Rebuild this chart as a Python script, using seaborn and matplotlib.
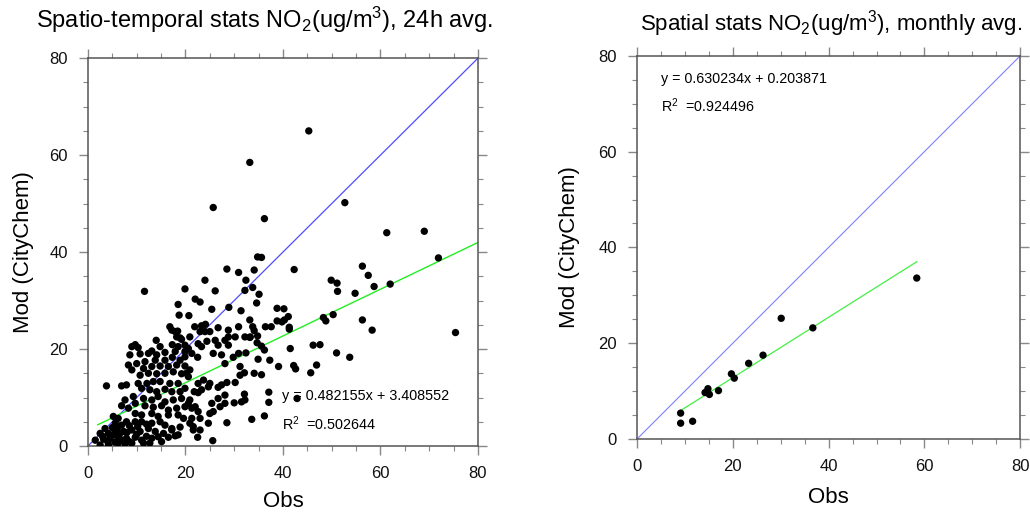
import matplotlib
matplotlib.use("Agg")
import matplotlib.pyplot as plt
import seaborn as sns
import numpy as np
from matplotlib.ticker import MultipleLocator

plt.rcParams.update({
    "font.family": ["Liberation Sans", "DejaVu Sans"],
    "mathtext.fontset": "custom",
    "mathtext.rm": "Liberation Sans",
    "mathtext.it": "Liberation Sans:italic",
    "mathtext.bf": "Liberation Sans:bold",
    "xtick.top": True, "xtick.bottom": True,
    "ytick.left": True, "ytick.right": True,
    "xtick.direction": "out", "ytick.direction": "out",
    "xtick.major.size": 6.5, "ytick.major.size": 6.5,
    "xtick.minor.size": 3.5, "ytick.minor.size": 3.5,
    "xtick.major.width": 1.0, "ytick.major.width": 1.0,
    "xtick.minor.width": 0.8, "ytick.minor.width": 0.8,
    "xtick.color": "#888888", "ytick.color": "#888888",
    "xtick.labelcolor": "#111111", "ytick.labelcolor": "#111111",
    "xtick.labelsize": 12, "ytick.labelsize": 12,
    "xtick.major.pad": 8, "ytick.major.pad": 8,
    "axes.facecolor": "white", "figure.facecolor": "white",
})

# ---------------- data: daily (24h avg) ----------------
obs_daily = [
    33.2, 45.3, 52.7, 36.2, 61.3, 69.0, 71.9, 34.8, 35.6, 34.1,
    42.3, 56.3, 57.5, 58.7, 62.0, 49.9, 51.1, 51.2, 54.8, 33.8,
    35.1, 34.6, 38.8, 40.2, 38.8, 39.8, 40.3, 41.1, 41.3, 41.3,
    36.4, 37.6, 33.2, 33.8, 34.1, 34.8, 48.3, 48.8, 50.3, 56.3,
    58.3, 75.4, 33.2, 34.7, 35.6, 36.2, 41.5, 46.2, 47.6, 51.0,
    53.7, 34.9, 37.3, 39.1, 42.2, 42.6, 46.9, 45.7, 34.1, 35.6,
    37.1, 37.1, 33.6, 36.2, 42.9,
    19.9, 21.3, 22.5, 25.7, 27.4, 29.8, 32.4, 28.1, 31.2, 31.2,
    32.1, 30.2, 28.5, 27.4, 26.7, 25.0, 24.7, 23.7, 22.6, 21.8,
    22.6, 23.3, 20.9, 20.2, 20.6, 28.1, 26.7, 25.4, 25.0, 25.7,
    27.1, 28.1, 30.0, 31.5, 32.2, 32.1, 20.9, 20.6, 21.3, 22.0,
    22.6, 23.0, 21.3, 20.9, 21.6, 23.0, 24.7, 28.5, 22.5, 25.6,
    21.6,
    28.5, 30.9, 24.0, 32.4, 26.1, 32.2, 19.9, 22.0, 23.0, 28.9,
    31.4, 25.4, 20.7, 21.9, 23.3, 24.1, 23.0, 24.0, 25.0, 26.7,
    28.8, 30.9, 28.8, 30.2, 32.2, 33.3, 26.1, 28.1, 20.9, 22.6,
    24.4, 20.6, 23.3, 28.8, 26.7, 30.9,
    11.6, 18.5, 18.7, 16.8, 17.2, 17.9, 18.4, 18.2, 18.9, 19.2,
    14.0, 9.7, 9.0, 10.3, 14.8, 13.1, 17.3, 18.5, 19.9, 25.7,
    8.6, 10.7, 12.4, 14.1, 15.8, 17.9, 19.9,
    8.3, 10.0, 11.7, 13.8, 15.8, 17.3, 18.9,
    9.0, 11.4, 13.1, 14.8, 16.5, 18.2, 19.9,
    10.7, 12.4, 14.1, 15.8, 17.5, 19.2,
    3.8, 6.9, 7.9, 10.3, 12.1, 13.4, 14.8, 16.8, 18.5, 19.9,
    11.0, 12.7, 14.1, 15.8, 17.2, 18.9,
    7.6, 9.3, 9.7, 11.4, 13.1, 14.4, 15.8, 17.5, 19.2,
    6.9, 8.3, 11.7, 13.4, 15.1, 16.5, 18.2, 19.9,
    5.2, 6.2, 9.7, 11.0, 13.1, 14.4, 16.5, 18.5, 19.6,
    3.5, 5.6, 6.9, 7.9, 9.7, 11.0, 13.1, 14.8, 15.8, 17.2, 18.9,
    2.5, 4.2, 5.6, 7.3, 9.0, 10.7, 12.4, 13.8, 15.5, 17.2, 18.5,
    1.5, 3.2, 4.5, 6.2, 7.9, 9.7, 11.0, 13.1, 14.4, 16.5, 17.9,
    2.5, 4.2, 6.2, 7.6, 9.0, 11.4, 12.7, 15.1,
    3.0, 4.0, 5.0, 5.5, 6.5, 7.0, 8.0, 8.5, 10.0, 12.0,
    5.0, 6.0, 8.5, 10.2, 12.0,
]
mod_daily = [
    58.5, 65.0, 50.2, 46.9, 44.0, 44.3, 38.8, 39.0, 38.9, 36.3,
    36.4, 37.1, 35.2, 32.9, 33.4, 34.2, 33.6, 31.9, 31.5, 32.7,
    31.3, 29.5, 28.4, 28.3, 25.8, 25.6, 26.0, 26.7, 24.5, 24.1,
    24.6, 24.6, 26.0, 24.6, 23.8, 22.7, 26.5, 25.8, 27.1, 26.0,
    23.9, 23.4, 22.4, 21.3, 20.6, 19.8, 20.1, 20.8, 20.9, 19.2,
    18.3, 17.9, 17.7, 16.4, 16.6, 15.9, 16.7, 15.1, 15.0, 14.7,
    11.1, 9.0, 5.5, 6.2, 9.8,
    18.4, 19.1, 18.3, 19.1, 18.8, 18.3, 19.2, 17.0, 16.4, 14.6,
    15.1, 13.1, 13.1, 12.6, 12.1, 12.9, 12.2, 13.6, 12.9, 11.2,
    11.0, 11.6, 15.7, 15.0, 14.3, 10.5, 9.8, 8.8, 6.7, 7.1,
    8.1, 8.8, 8.9, 9.1, 9.5, 10.7, 9.5, 8.8, 7.8, 8.1,
    7.1, 5.7, 5.7, 4.7, 4.0, 3.3, 4.7, 4.8, 1.8, 1.1,
    3.3,
    36.5, 35.8, 34.2, 34.2, 32.0, 32.1, 32.4, 30.3, 29.7, 28.6,
    27.9, 28.2, 26.9, 24.6, 24.8, 25.1, 23.6, 23.6, 23.6, 24.4,
    23.9, 24.6, 22.5, 22.5, 22.5, 22.5, 21.8, 21.8, 22.5, 21.1,
    21.6, 20.1, 20.5, 20.8, 20.8, 19.1,
    31.9, 29.2, 27.0, 24.6, 23.9, 23.6, 23.7, 22.5, 22.3, 22.0,
    21.8, 20.9, 20.5, 20.3, 20.5, 19.6, 20.9, 20.5, 20.8, 49.2,
    18.8, 19.0, 19.1, 18.8, 19.3, 19.5, 19.5,
    16.7, 17.0, 17.4, 17.7, 17.7, 18.3, 17.7,
    15.7, 16.0, 16.4, 16.5, 16.4, 16.7, 16.5,
    14.6, 15.0, 14.9, 15.0, 15.3, 14.9,
    12.4, 12.4, 12.6, 12.9, 12.9, 13.3, 13.3, 12.9, 12.9, 11.9,
    11.9, 11.6, 11.2, 11.7, 11.2, 11.2,
    9.5, 10.2, 8.8, 9.8, 9.5, 10.2, 9.1, 9.5, 9.8,
    8.3, 7.8, 8.3, 8.0, 8.3, 7.4, 7.8, 8.1,
    6.1, 5.7, 6.7, 6.4, 6.7, 6.1, 6.4, 6.4, 5.7,
    3.6, 4.7, 4.3, 5.0, 5.0, 5.0, 4.7, 5.0, 4.3, 3.6, 3.9,
    2.6, 2.6, 3.0, 3.0, 3.3, 3.0, 3.6, 3.0, 2.6, 3.3, 2.3,
    1.2, 1.4, 1.6, 1.8, 1.6, 1.8, 1.2, 1.6, 1.9, 1.8, 2.1,
    0.2, 0.2, 0.6, 0.4, 0.6, 0.6, 0.6, 0.9,
    2.0, 1.0, 2.2, 0.8, 2.5, 1.2, 2.8, 0.9, 2.4, 2.0,
    3.8, 3.5, 4.2, 4.0, 4.5,
]
slope_daily, icpt_daily, r2_daily = 0.482155, 3.408552, 0.502644
fit_daily_x = [2.0, 80.0]

# ---------------- data: monthly ----------------
obs_monthly = [9.1, 9.1, 11.6, 14.2, 14.8, 15.1, 17.0, 19.7, 20.3, 23.3, 26.3, 30.1, 36.7, 58.4]
mod_monthly = [5.4, 3.3, 3.7, 9.7, 10.5, 9.3, 10.1, 13.6, 12.7, 15.8, 17.5, 25.2, 23.2, 33.6]
slope_monthly, icpt_monthly, r2_monthly = 0.630234, 0.203871, 0.924496

titles = [r"Spatio-temporal stats NO$_2$(ug/m$^3$), 24h avg.",
          r"Spatial stats NO$_2$(ug/m$^3$), monthly avg."]
xlabel, ylabel = "Obs", "Mod (CityChem)"
ticks = [0, 20, 40, 60, 80]

fig = plt.figure(figsize=(10.3, 5.15), dpi=100)
ax1 = fig.add_axes([0.0854, 0.134, 0.3786, 0.753])
ax2 = fig.add_axes([0.6185, 0.1476, 0.372, 0.744])


def style(ax, xpad, ypad):
    ax.set_xlim(0, 80)
    ax.set_ylim(0, 80)
    ax.set_xticks(ticks)
    ax.set_yticks(ticks)
    ax.xaxis.set_minor_locator(MultipleLocator(5))
    ax.yaxis.set_minor_locator(MultipleLocator(5))
    ax.tick_params(which="both", top=True, bottom=True, left=True, right=True,
                   labeltop=False, labelright=False,
                   labelbottom=True, labelleft=True)
    for s in ax.spines.values():
        s.set_visible(True)
        s.set_color("#555555")
        s.set_linewidth(1.1)
    ax.grid(False)
    ax.set_xlabel(xlabel, fontsize=16, labelpad=xpad)
    ax.set_ylabel(ylabel, fontsize=16, labelpad=ypad)


# left panel
lx = np.array([0, 80])
ax1.plot(lx, lx, color="#4d4dff", lw=0.9, zorder=2)
fx = np.array(fit_daily_x)
ax1.plot(fx, slope_daily * fx + icpt_daily, color="#22ee22", lw=1.0, zorder=2)
sns.scatterplot(x=obs_daily, y=mod_daily, ax=ax1, color="black", s=28,
                edgecolor="none", linewidth=0, zorder=3)
style(ax1, 7, 11)
ax1.text(39.8, 10.3, f"y = {slope_daily:.6f}x + {icpt_daily:.6f}", fontsize=10.4,
         va="center", ha="left", zorder=1)
ax1.text(39.8, 4.7, r"R$^2$ " + f" ={r2_daily:.6f}", fontsize=10.4, va="center", ha="left")
ax1.set_title(titles[0], fontsize=17, x=0.454, pad=22)

# right panel
ax2.plot(lx, lx, color="#8080ff", lw=0.8, zorder=2)
mx = np.array([min(obs_monthly), max(obs_monthly)])
ax2.plot(mx, slope_monthly * mx + icpt_monthly, color="#44ee44", lw=0.9, zorder=2)
sns.scatterplot(x=obs_monthly, y=mod_monthly, ax=ax2, color="black", s=28,
                edgecolor="none", linewidth=0, zorder=3)
style(ax2, 9, 13)
ax2.text(4.9, 75.1, f"y = {slope_monthly:.6f}x + {icpt_monthly:.6f}", fontsize=10.3,
         va="center", ha="left")
ax2.text(4.9, 69.6, r"R$^2$ " + f" ={r2_monthly:.6f}", fontsize=10.3, va="center", ha="left")
ax2.set_title(titles[1], fontsize=16, x=0.506, pad=18)

fig.savefig("out.png", dpi=100)
